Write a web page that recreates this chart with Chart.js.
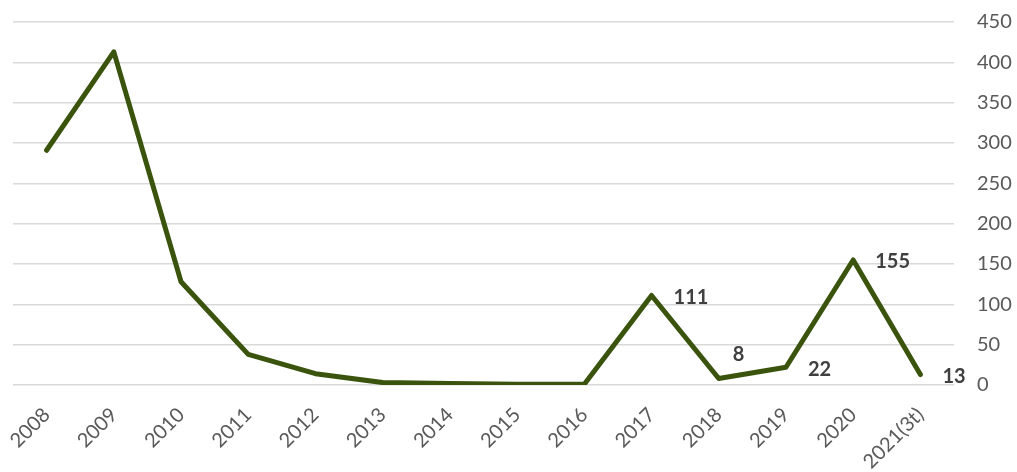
<!DOCTYPE html>
<html>
<head>
<meta charset="utf-8">
<script src="https://cdn.jsdelivr.net/npm/chart.js@4.4.1/dist/chart.umd.min.js"></script>
<style>
html,body{margin:0;padding:0;background:#fff;}
#wrap{width:1017px;height:472px;position:relative;}
</style>
</head>
<body>
<div id="wrap"><canvas id="c" width="1017" height="472"></canvas></div>
<script>
const categories = ["2008","2009","2010","2011","2012","2013","2014","2015","2016","2017","2018","2019","2020","2021(3t)"];
const values = [291, 413, 128, 38, 14, 3, 2, 1, 1, 111, 8, 22, 155, 13];
const labelledIndexes = [9, 10, 11, 12, 13];
const yTicks = [0, 50, 100, 150, 200, 250, 300, 350, 400, 450];

const labelPlugin = {
  id: 'pointLabels',
  afterDatasetsDraw(chart) {
    const ctx = chart.ctx;
    const meta = chart.getDatasetMeta(0);
    ctx.save();
    ctx.font = 'bold 20px Lato, "Liberation Sans", sans-serif';
    ctx.fillStyle = '#404040';
    ctx.textBaseline = 'middle';
    ctx.textAlign = 'left';
    labelledIndexes.forEach(i => {
      const p = meta.data[i];
      let dx = 22, dy = 2;
      if (i === 10) { dx = 14; dy = -24; }
      ctx.fillText(String(values[i]), p.x + dx, p.y + dy);
    });
    ctx.restore();
  }
};

new Chart(document.getElementById('c'), {
  type: 'line',
  data: {
    labels: categories,
    datasets: [{
      data: values,
      borderColor: '#3A540E',
      borderWidth: 5,
      pointRadius: 0,
      tension: 0,
      fill: false,
      borderCapStyle: 'round',
      borderJoinStyle: 'round'
    }]
  },
  options: {
    responsive: false,
    animation: false,
    layout: { padding: { left: 13, right: 0, top: 22, bottom: 0 } },
    plugins: { legend: { display: false }, tooltip: { enabled: false } },
    scales: {
      x: {
        offset: true,
        grid: { display: false },
        border: { display: false },
        afterFit(axis) { axis.height = 87; },
        ticks: {
          color: '#595959',
          font: { family: 'Lato, "Liberation Sans", sans-serif', size: 20 },
          minRotation: 45, maxRotation: 45,
          padding: 10,
          autoSkip: false
        }
      },
      y: {
        position: 'right',
        min: 0, max: 450,
        afterBuildTicks(axis) { axis.ticks = yTicks.map(v => ({ value: v })); },
        afterFit(axis) { axis.width = 63; axis.paddingTop = 0; axis.paddingBottom = 0; },
        grid: { color: '#d9d9d9', lineWidth: 1.5, drawTicks: false },
        border: { display: false },
        ticks: {
          color: '#595959',
          font: { family: 'Lato, "Liberation Sans", sans-serif', size: 20 },
          crossAlign: 'near',
          padding: 23
        }
      }
    }
  },
  plugins: [labelPlugin]
});
</script>
</body>
</html>
